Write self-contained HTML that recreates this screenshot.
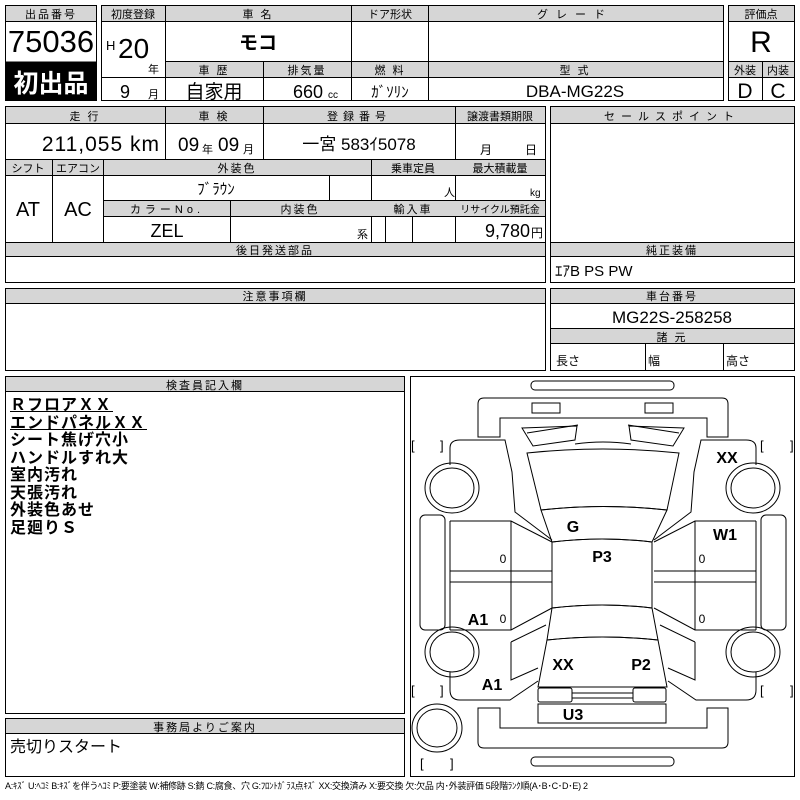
<!DOCTYPE html>
<html><head><meta charset="utf-8"><style>
html,body{margin:0;padding:0;background:#fff;width:800px;height:800px;overflow:hidden}
svg{display:block}
text{font-family:"Liberation Sans","Noto Sans CJK JP",sans-serif;fill:#000}
.h{fill:#d6d6d6;stroke:#000;stroke-width:1}
.b{fill:none;stroke:#000;stroke-width:1}
.ht{font-size:11px;letter-spacing:2px}
.c{stroke:#000;stroke-width:1;fill:none}
.lb{font-family:"Liberation Sans Narrow","Liberation Sans",sans-serif;font-size:16px;font-weight:bold}
</style></head><body>
<svg width="800" height="800" viewBox="0 0 800 800" xmlns="http://www.w3.org/2000/svg">
<g shape-rendering="crispEdges">
<!-- lot number box -->
<rect x="5.5" y="5.5" width="91" height="95" class="b"/>
<rect x="5.5" y="5.5" width="91" height="16" class="h"/>
<rect x="5.5" y="61.5" width="91" height="39" fill="#000"/>
<!-- main top table -->
<rect x="101.5" y="5.5" width="622" height="95" class="b"/>
<rect x="101.5" y="5.5" width="622" height="16" class="h"/>
<rect x="165.5" y="61.5" width="558" height="16" class="h"/>
<line x1="165.5" y1="5" x2="165.5" y2="101" stroke="#000"/>
<line x1="351.5" y1="5" x2="351.5" y2="101" stroke="#000"/>
<line x1="428.5" y1="5" x2="428.5" y2="101" stroke="#000"/>
<line x1="263.5" y1="61" x2="263.5" y2="101" stroke="#000"/>
<line x1="101" y1="77.5" x2="165" y2="77.5" stroke="#000"/>
<!-- score box -->
<rect x="728.5" y="5.5" width="66" height="95" class="b"/>
<rect x="728.5" y="5.5" width="66" height="16" class="h"/>
<rect x="728.5" y="61.5" width="66" height="16" class="h"/>
<line x1="762.5" y1="61" x2="762.5" y2="101" stroke="#000"/>
<!-- second block -->
<rect x="5.5" y="106.5" width="540" height="136" class="b"/>
<rect x="5.5" y="106.5" width="540" height="17" class="h"/>
<line x1="165.5" y1="106" x2="165.5" y2="159" stroke="#000"/>
<line x1="263.5" y1="106" x2="263.5" y2="159" stroke="#000"/>
<line x1="455.5" y1="106" x2="455.5" y2="242" stroke="#000"/>
<rect x="5.5" y="159.5" width="540" height="16" class="h"/>
<line x1="52.5" y1="159" x2="52.5" y2="242" stroke="#000"/>
<line x1="103.5" y1="159" x2="103.5" y2="242" stroke="#000"/>
<line x1="371.5" y1="159" x2="371.5" y2="242" stroke="#000"/>
<line x1="329.5" y1="175" x2="329.5" y2="200" stroke="#000"/>
<rect x="103.5" y="200.5" width="442" height="16" class="h"/>
<line x1="230.5" y1="200" x2="230.5" y2="242" stroke="#000"/>
<line x1="385.5" y1="216" x2="385.5" y2="242" stroke="#000"/>
<line x1="412.5" y1="216" x2="412.5" y2="242" stroke="#000"/>
<!-- sales point -->
<rect x="550.5" y="106.5" width="244" height="136" class="b"/>
<rect x="550.5" y="106.5" width="244" height="17" class="h"/>
<!-- later parts -->
<rect x="5.5" y="242.5" width="540" height="40" class="b"/>
<rect x="5.5" y="242.5" width="540" height="14" class="h"/>
<rect x="550.5" y="242.5" width="244" height="40" class="b"/>
<rect x="550.5" y="242.5" width="244" height="14" class="h"/>
<!-- notes -->
<rect x="5.5" y="288.5" width="540" height="82" class="b"/>
<rect x="5.5" y="288.5" width="540" height="15" class="h"/>
<rect x="550.5" y="288.5" width="244" height="82" class="b"/>
<rect x="550.5" y="288.5" width="244" height="15" class="h"/>
<rect x="550.5" y="328.5" width="244" height="15" class="h"/>
<line x1="645.5" y1="344" x2="645.5" y2="370" stroke="#000"/>
<line x1="723.5" y1="344" x2="723.5" y2="370" stroke="#000"/>
<!-- inspector -->
<rect x="5.5" y="376.5" width="399" height="337" class="b"/>
<rect x="5.5" y="376.5" width="399" height="15" class="h"/>
<rect x="5.5" y="718.5" width="399" height="58" class="b"/>
<rect x="5.5" y="718.5" width="399" height="15" class="h"/>
<!-- diagram box -->
<rect x="410.5" y="376.5" width="384" height="400" class="b"/>
</g>

<!-- header texts -->
<g class="ht" text-anchor="middle">
<text x="51" y="18">出品番号</text>
<text x="133" y="18" letter-spacing="0">初度登録</text>
<text x="258" y="18">車 名</text>
<text x="390" y="18" letter-spacing="0">ドア形状</text>
<text x="575" y="18" letter-spacing="8">グレード</text>
<text x="761" y="18" letter-spacing="0">評価点</text>
<text x="214" y="74">車 歴</text>
<text x="307" y="74">排気量</text>
<text x="390" y="74">燃 料</text>
<text x="575" y="74">型 式</text>
<text x="745" y="74" letter-spacing="0">外装</text>
<text x="778" y="74" letter-spacing="0">内装</text>
<text x="85" y="120">走 行</text>
<text x="214" y="120">車 検</text>
<text x="359" y="120" letter-spacing="5">登録番号</text>
<text x="500" y="120" letter-spacing="0">譲渡書類期限</text>
<text x="672" y="120" letter-spacing="6">セールスポイント</text>
<text x="28" y="172" letter-spacing="0">シフト</text>
<text x="78" y="172" letter-spacing="0">エアコン</text>
<text x="237" y="172">外装色</text>
<text x="413" y="172" letter-spacing="0">乗車定員</text>
<text x="500" y="172" letter-spacing="0">最大積載量</text>
<text x="167" y="213" letter-spacing="4">カラーNo.</text>
<text x="300" y="213">内装色</text>
<text x="413" y="213">輸入車</text>
<text x="500" y="213" letter-spacing="0" font-size="10">リサイクル預託金</text>
<text x="275" y="254">後日発送部品</text>
<text x="672" y="254">純正装備</text>
<text x="275" y="300">注意事項欄</text>
<text x="672" y="300">車台番号</text>
<text x="672" y="341">諸 元</text>
<text x="205" y="389">検査員記入欄</text>
<text x="205" y="731">事務局よりご案内</text>
</g>

<!-- values -->
<text x="51" y="52" text-anchor="middle" font-size="31">75036</text>
<text x="51" y="92" text-anchor="middle" font-size="25" font-weight="bold" fill="#fff" style="fill:#fff">初出品</text>
<text x="106" y="50" font-size="13">H</text>
<text x="118" y="58" font-size="28">20</text>
<text x="148" y="73" font-size="11">年</text>
<text x="120" y="98" font-size="18">9</text>
<text x="148" y="98" font-size="11">月</text>
<text x="258" y="49" text-anchor="middle" font-size="19" font-weight="bold">モコ</text>
<text x="214" y="98" text-anchor="middle" font-size="19">自家用</text>
<text x="323" y="98" text-anchor="end" font-size="18">660</text>
<text x="328" y="98" font-size="10">cc</text>
<text x="390" y="97" text-anchor="middle" font-size="15">ｶﾞｿﾘﾝ</text>
<text x="575" y="97" text-anchor="middle" font-size="17">DBA-MG22S</text>
<text x="761" y="52" text-anchor="middle" font-size="30">R</text>
<text x="745" y="98" text-anchor="middle" font-size="21">D</text>
<text x="778" y="98" text-anchor="middle" font-size="21">C</text>
<text x="160" y="151" text-anchor="end" font-size="21" letter-spacing="1">211,055 km</text>
<text x="178" y="151" font-size="19">09</text>
<text x="202" y="153" font-size="11">年</text>
<text x="218" y="151" font-size="19">09</text>
<text x="243" y="153" font-size="11">月</text>
<text x="359" y="150" text-anchor="middle" font-size="17">一宮 583ｲ5078</text>
<text x="480" y="154" font-size="12">月</text>
<text x="525" y="154" font-size="12">日</text>
<text x="28" y="216" text-anchor="middle" font-size="20">AT</text>
<text x="78" y="216" text-anchor="middle" font-size="20">AC</text>
<text x="216" y="194" text-anchor="middle" font-size="15">ﾌﾞﾗｳﾝ</text>
<text x="444" y="196" font-size="11">人</text>
<text x="530" y="196" font-size="10">kg</text>
<text x="167" y="237" text-anchor="middle" font-size="18">ZEL</text>
<text x="357" y="238" font-size="11">系</text>
<text x="530" y="237" text-anchor="end" font-size="18">9,780</text>
<text x="531" y="237" font-size="12">円</text>
<text x="555" y="276" font-size="15">ｴｱB PS PW</text>
<text x="672" y="323" text-anchor="middle" font-size="17">MG22S-258258</text>
<text x="556" y="365" font-size="12">長さ</text>
<text x="648" y="365" font-size="12">幅</text>
<text x="726" y="365" font-size="12">高さ</text>

<g font-size="16" font-weight="bold" letter-spacing="1">
<text x="10" y="410">ＲフロアＸＸ</text>
<text x="10" y="428">エンドパネルＸＸ</text>
<text x="10" y="445">シート焦げ穴小</text>
<text x="10" y="463">ハンドルすれ大</text>
<text x="10" y="480">室内汚れ</text>
<text x="10" y="498">天張汚れ</text>
<text x="10" y="515">外装色あせ</text>
<text x="10" y="533">足廻りＳ</text>
</g>
<line x1="10" y1="411.5" x2="113" y2="411.5" stroke="#000"/>
<line x1="10" y1="429.5" x2="147" y2="429.5" stroke="#000"/>
<text x="10" y="752" font-size="16">売切りスタート</text>
<text x="5" y="789" font-size="9" letter-spacing="-0.3">A:ｷｽﾞ U:ﾍｺﾐ B:ｷｽﾞを伴うﾍｺﾐ P:要塗装 W:補修跡 S:錆 C:腐食、穴 G:ﾌﾛﾝﾄｶﾞﾗｽ点ｷｽﾞ XX:交換済み X:要交換 欠:欠品 内･外装評価 5段階ﾗﾝｸ順(A･B･C･D･E) 2</text>

<!-- car diagram -->
<g class="c">
<rect x="531" y="381" width="143" height="9" rx="4"/>
<rect x="531" y="757" width="143" height="9" rx="4"/>
<path d="M484,398 H722 Q728,398 728,404 V437 H707 V418 H500 V437 H478 V404 Q478,398 484,398 Z"/>
<path d="M484,748 H722 Q728,748 728,742 V708 H707 V728 H500 V708 H478 V742 Q478,748 484,748 Z"/>
<rect x="532" y="403" width="28" height="10"/>
<rect x="645" y="403" width="28" height="10"/>
<!-- wipers / cowl -->
<path d="M522,428 L577,426 L575,440 L533,446 Z"/>
<path d="M684,428 L629,426 L631,440 L673,446 Z"/>
<path d="M527,433 L578,425 M679,433 L628,425"/>
<path d="M575,444 Q603,440 631,444"/>
<!-- hood -->
<path d="M527,453 Q603,445 679,453 L667,510 Q603,503 541,510 Z"/>
<!-- windshield -->
<path d="M541,510 Q603,503 667,510 L652,542 Q603,536 552,542 Z"/>
<!-- roof -->
<path d="M552,542 Q603,536 652,542 L652,608 Q603,602 552,608 Z"/>
<!-- rear window -->
<path d="M552,608 Q603,602 652,608 L658,640 Q603,634 547,640 Z"/>
<!-- rear -->
<path d="M547,640 Q603,634 658,640 L667,687 H538 Z"/>
<rect x="538" y="688" width="34" height="14" rx="2"/>
<rect x="633" y="688" width="33" height="14" rx="2"/>
<path d="M572,693 H633 M572,698 H633"/>
<rect x="538" y="704" width="128" height="19"/>
<!-- left side -->
<path d="M450,465 V448 Q450,440 460,440 H505 L512,472 L515,512 L552,540"/>
<path d="M450,521 H511 L552,542 M450,571 H552 M450,582 H552 M450,630 H511 L552,608 M511,521 V630"/>
<path d="M450,521 V630"/>
<rect x="420" y="515" width="25" height="115" rx="5"/>
<path d="M450,672 V690 Q450,700 460,700 H510 L538,681 M511,642 L546,625 M511,642 V680 L538,668"/>
<!-- right side (mirrored) -->
<path d="M756,465 V448 Q756,440 746,440 H701 L694,472 L691,512 L654,540"/>
<path d="M756,521 H695 L654,542 M654,571 H756 M654,582 H756 M756,630 H695 L654,608 M695,521 V630"/>
<path d="M756,521 V630"/>
<rect x="761" y="515" width="25" height="115" rx="5"/>
<path d="M756,672 V690 Q756,700 746,700 H696 L668,681 M695,642 L660,625 M695,642 V680 L668,668"/>
<!-- wheels -->
<ellipse cx="452" cy="488" rx="27" ry="25"/><ellipse cx="452" cy="488" rx="22" ry="20"/>
<ellipse cx="452" cy="652" rx="27" ry="25"/><ellipse cx="452" cy="652" rx="22" ry="20"/>
<ellipse cx="753" cy="488" rx="27" ry="25"/><ellipse cx="753" cy="488" rx="22" ry="20"/>
<ellipse cx="753" cy="652" rx="27" ry="25"/><ellipse cx="753" cy="652" rx="22" ry="20"/>
<ellipse cx="437" cy="728" rx="25" ry="24"/><ellipse cx="437" cy="728" rx="20" ry="19"/>
</g>
<g font-size="13">
<text x="411" y="450">[</text><text x="440" y="450">]</text>
<text x="760" y="450">[</text><text x="790" y="450">]</text>
<text x="411" y="695">[</text><text x="440" y="695">]</text>
<text x="760" y="695">[</text><text x="790" y="695">]</text>
<text x="420" y="768">[</text><text x="450" y="768">]</text>
</g>
<g class="lb" text-anchor="middle">
<text x="727" y="463">XX</text>
<text x="725" y="540">W1</text>
<text x="573" y="532">G</text>
<text x="602" y="562">P3</text>
<text x="478" y="625">A1</text>
<text x="492" y="690">A1</text>
<text x="563" y="670">XX</text>
<text x="641" y="670">P2</text>
<text x="573" y="720">U3</text>
</g>
<g font-size="12" font-family="Liberation Sans Narrow,Liberation Sans,sans-serif" text-anchor="middle">
<text x="503" y="563">0</text><text x="702" y="563">0</text>
<text x="503" y="623">0</text><text x="702" y="623">0</text>
</g>
</svg>
</body></html>
